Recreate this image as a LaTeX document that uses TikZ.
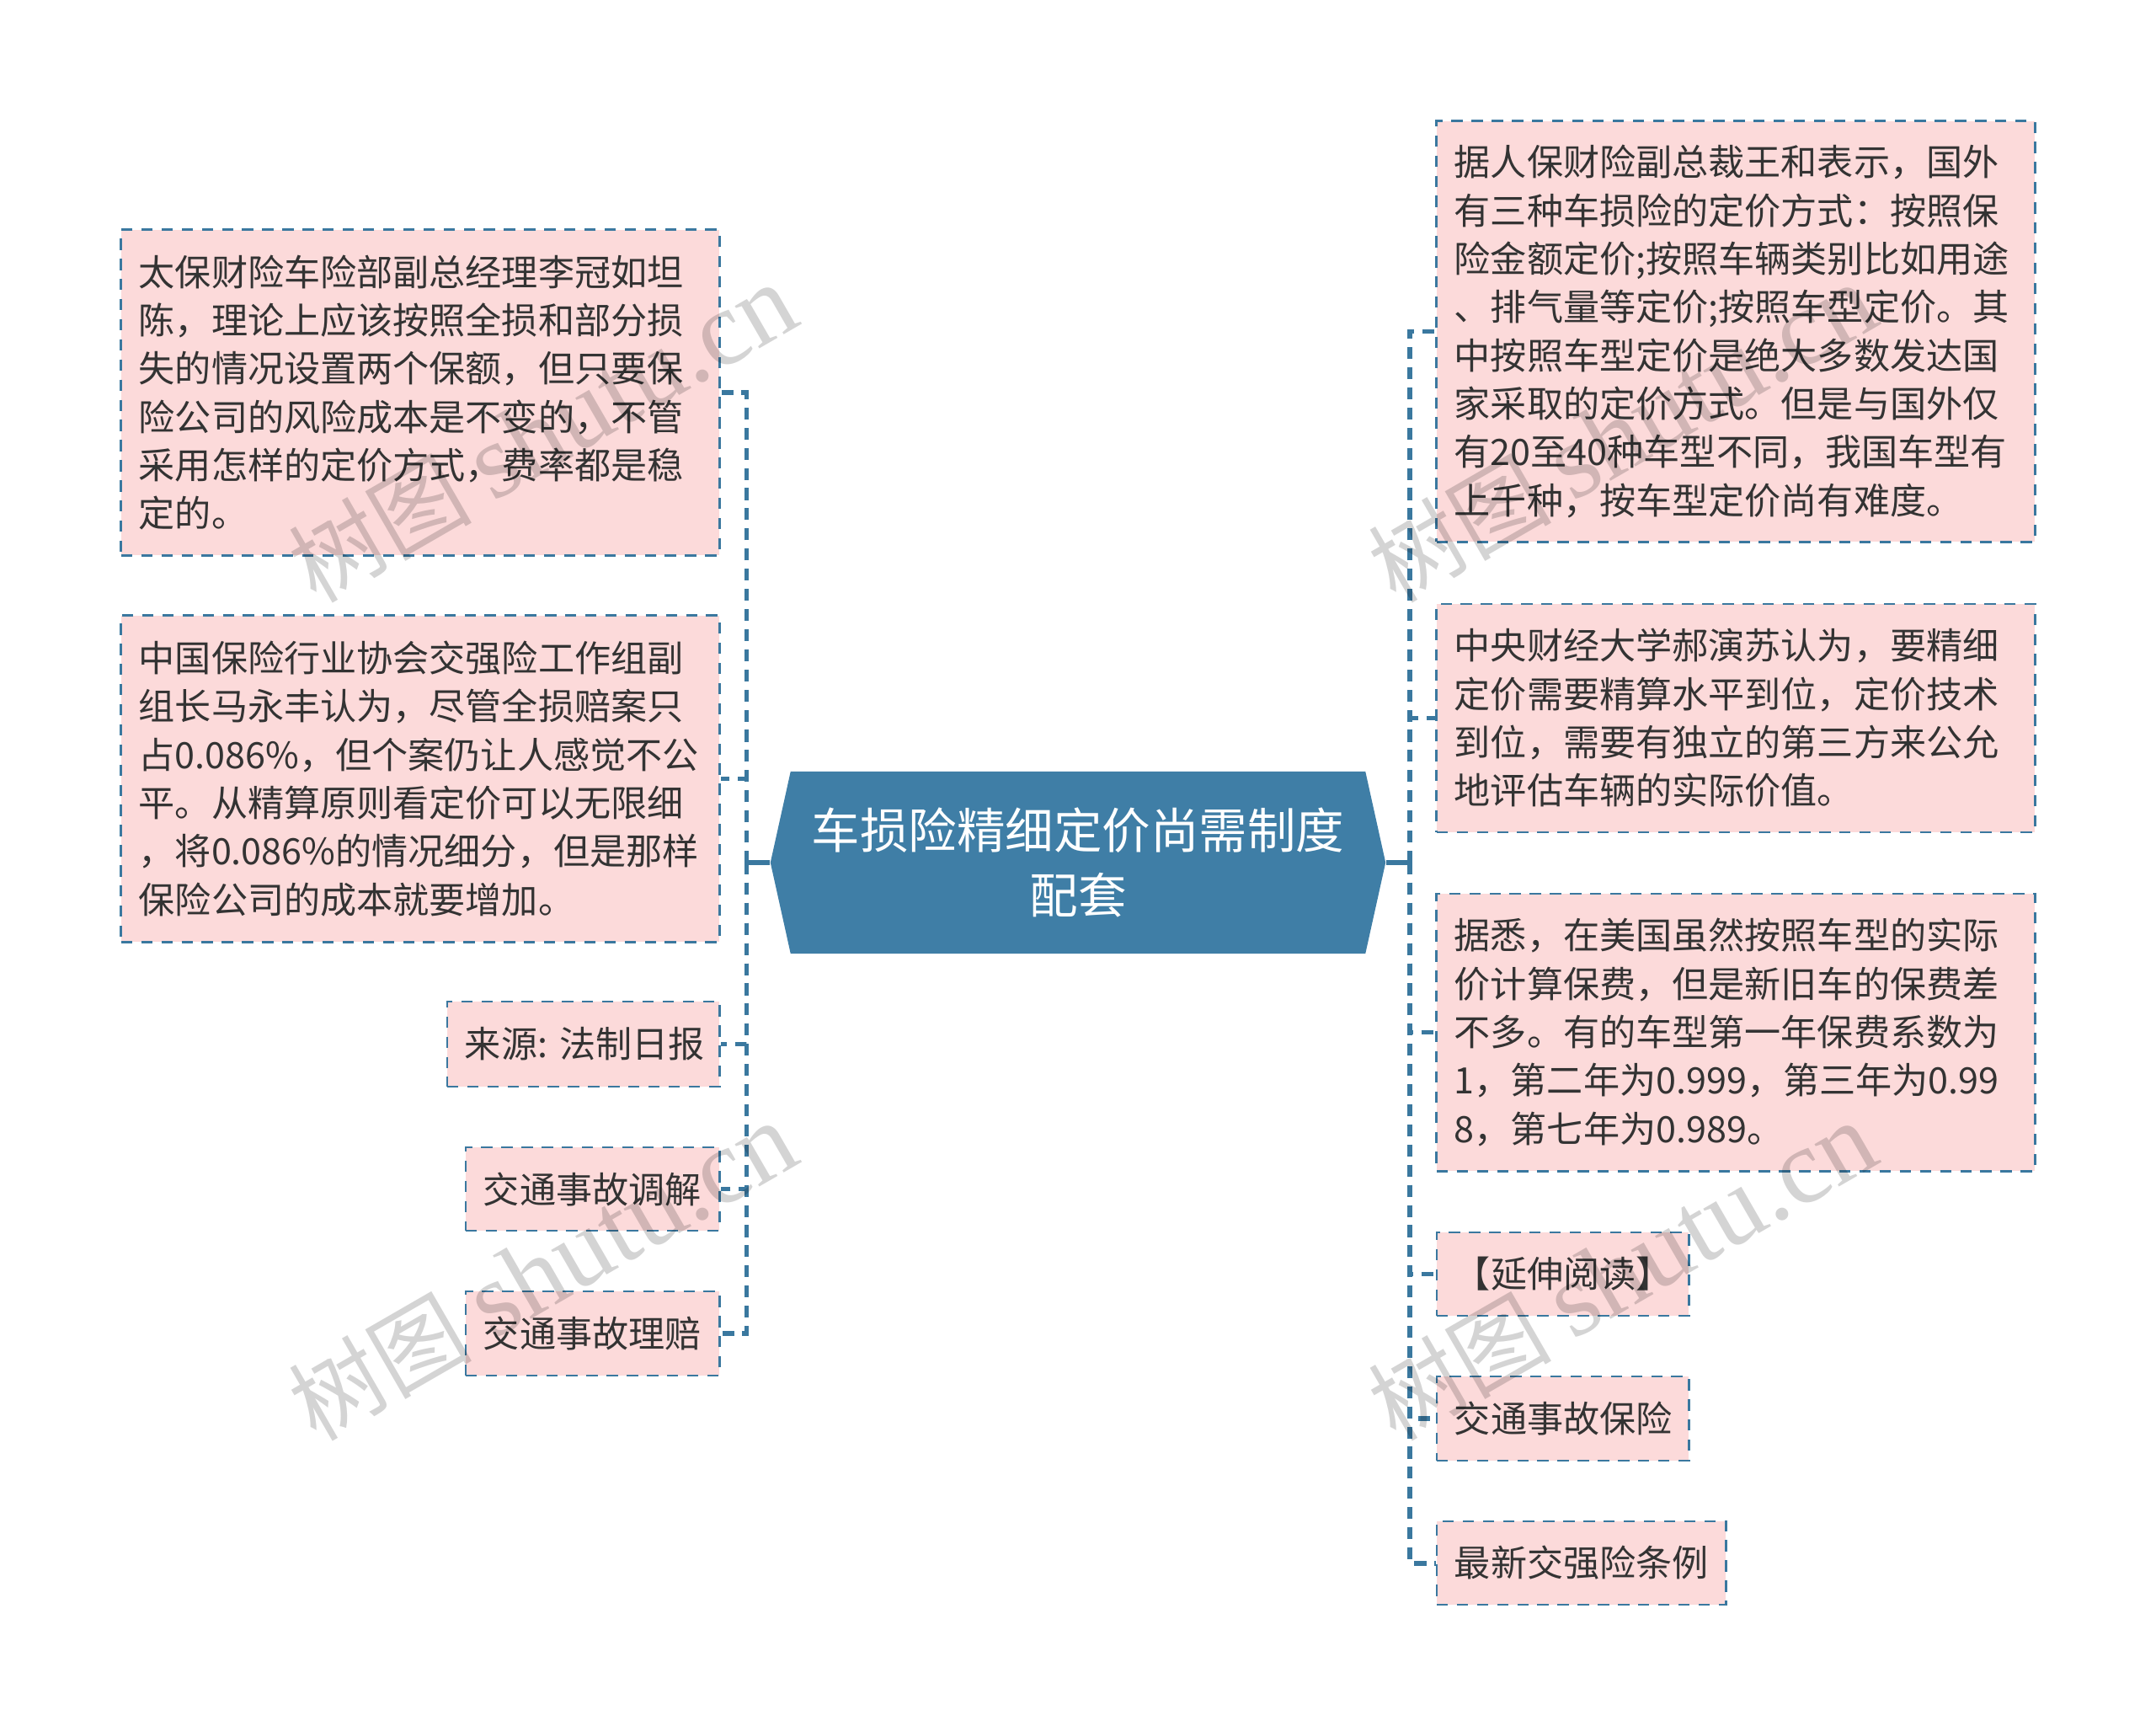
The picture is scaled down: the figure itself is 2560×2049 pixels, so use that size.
\documentclass[tikz,border=0pt]{standalone}
\usepackage{fontspec}
\usepackage{xcolor}
\usetikzlibrary{shapes.symbols}
\setmainfont{Noto Sans CJK SC}
\newfontfamily\wmfont{Liberation Serif}
\definecolor{linkblue}{HTML}{3A789F}
\definecolor{rootblue}{HTML}{3F7EA6}
\definecolor{boxpink}{HTML}{FCDADA}
\definecolor{textgrey}{HTML}{333333}
\begin{document}
\begin{tikzpicture}[x=0.01cm,y=-0.01cm,
		root/.style={signal, signal to=west and east, signal pointer angle=155, fill=rootblue, text=white, align=center, minimum width=7.30cm, minimum height=2.16cm, inner sep=0pt, font=\fontsize{16.35}{21.8}\selectfont},
		leaf/.style={draw=linkblue, fill=boxpink, line width=0.8pt, dash pattern=on 3.8pt off 3pt, text=textgrey, align=left, inner xsep=0.21cm, inner ysep=0pt, font=\fontsize{12.26}{16.3}\selectfont},
		link/.style={draw=linkblue, line width=1.7pt, dash pattern=on 4pt off 2.8pt},
		stub/.style={draw=linkblue, line width=1.7pt},
		watermark/.style={text=black, opacity=0.17, rotate=30, inner sep=0pt, font=\fontsize{31}{31}\selectfont}]
		
		\useasboundingbox (0,0) rectangle (2560,2049);
		
		\node [root] (0) at (1280,1024){车损险精细定价尚需制度\\配套};
		
		\node [leaf, text width=6.68cm, minimum height=3.86cm] (1) at (499,466){太保财险车险部副总经理李冠如坦\\陈，理论上应该按照全损和部分损\\失的情况设置两个保额，但只要保\\险公司的风险成本是不变的，不管\\采用怎样的定价方式，费率都是稳\\定的。};
		\node [leaf, text width=6.68cm, minimum height=3.87cm] (2) at (499,924.5){中国保险行业协会交强险工作组副\\组长马永丰认为，尽管全损赔案只\\占0.086\%，但个案仍让人感觉不公\\平。从精算原则看定价可以无限细\\，将0.086\%的情况细分，但是那样\\保险公司的成本就要增加。};
		\node [leaf, text width=2.81cm, minimum height=1.01cm] (3) at (692.5,1239.5){来源:~法制日报};
		\node [leaf, text width=2.59cm, minimum height=0.99cm] (4) at (703.5,1411.5){交通事故调解};
		\node [leaf, text width=2.59cm, minimum height=1.00cm] (5) at (703.5,1583){交通事故理赔};
		
		\node [leaf, text width=6.68cm, minimum height=4.99cm] (6) at (2061,393.5){据人保财险副总裁王和表示，国外\\有三种车损险的定价方式：按照保\\险金额定价;按照车辆类别比如用途\\、排气量等定价;按照车型定价。其\\中按照车型定价是绝大多数发达国\\家采取的定价方式。但是与国外仅\\有20至40种车型不同，我国车型有\\上千种，按车型定价尚有难度。};
		\node [leaf, text width=6.68cm, minimum height=2.71cm] (7) at (2061,852.5){中央财经大学郝演苏认为，要精细\\定价需要精算水平到位，定价技术\\到位，需要有独立的第三方来公允\\地评估车辆的实际价值。};
		\node [leaf, text width=6.68cm, minimum height=3.29cm] (8) at (2061,1225.5){据悉，在美国虽然按照车型的实际\\价计算保费，但是新旧车的保费差\\不多。有的车型第一年保费系数为\\1，第二年为0.999，第三年为0.99\\8，第七年为0.989。};
		\node [leaf, text width=2.57cm, minimum height=0.99cm] (9) at (1855.5,1512.5){【延伸阅读】};
		\node [leaf, text width=2.57cm, minimum height=1.00cm] (10) at (1855.5,1684){交通事故保险};
		\node [leaf, text width=3.01cm, minimum height=0.99cm] (11) at (1877.5,1855.5){最新交强险条例};
		
		\coordinate (l) at (886.5,1024);
		\coordinate (r) at (1674,1024);
		
		\draw [stub] (0.west) -- (l);
		\draw [stub] (0.east) -- (r);
		\foreach \n in {1,...,5}
			\draw [link] (l) |- (\n.east);
		\foreach \n in {6,...,11}
			\draw [link] (r) |- (\n.west);
		
		\foreach \x/\y/\n in {644/515/w1,644/1510/w2,1926/515/w3,1926/1510/w4}
			\node [watermark] (\n) at (\x,\y){树图 {\wmfont\fontsize{36}{36}\selectfont shutu.cn}};
		
	\end{tikzpicture}
\end{document}
